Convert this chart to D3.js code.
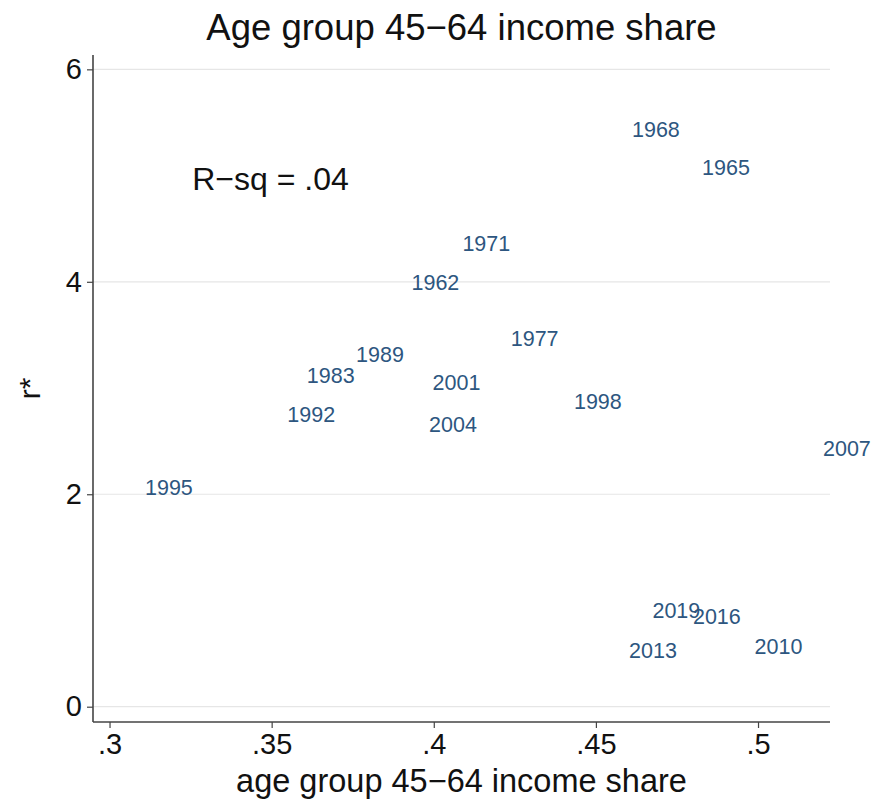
<!DOCTYPE html>
<html>
<head>
<meta charset="utf-8">
<script src="https://cdn.jsdelivr.net/npm/d3@7"></script>
<style>
  html, body { margin: 0; padding: 0; background: #fff; }
  svg { display: block; font-family: "Liberation Sans", Arial, Helvetica, sans-serif; }
</style>
</head>
<body>
<svg id="chart" width="877" height="800"></svg>
<script>
// ---- data ----
const years  = ["1968","1965","1971","1962","1977","1989","1983","2001","1992","2004","1995","1998","2007","2019","2016","2013","2010"];
const share  = [0.4599,0.4815,0.4076,0.3919,0.4225,0.3748,0.3596,0.3984,0.3536,0.3973,0.3097,0.4420,0.5188,0.4662,0.4787,0.4590,0.4977];
const rstar  = [5.43,5.08,4.36,3.99,3.47,3.32,3.12,3.05,2.75,2.66,2.06,2.87,2.43,0.91,0.85,0.53,0.57];
const xTicks = [0.30,0.35,0.40,0.45,0.50];
const xTickLabels = [".3",".35",".4",".45",".5"];
const yTicks = [0,2,4,6];
const yTickLabels = ["0","2","4","6"];
const titleText = "Age group 45\u221264 income share";
const xTitle = "age group 45\u221264 income share";
const yTitle = "r*";
const annotation = {text: "R\u2212sq = .04", x: 0.3255, y: 4.97};

// ---- layout ----
const svg = d3.select("#chart");
const mL = 93, mR = 830, mT = 55, mB = 722;

const x = d3.scaleLinear().domain([0.2949, 0.5222]).range([mL, mR]);
const y = d3.scaleLinear().domain([-0.144, 6.135]).range([mB, mT]);

// gridlines
svg.append("g").selectAll("line").data(yTicks).join("line")
  .attr("x1", mL).attr("x2", mR)
  .attr("y1", d => y(d)).attr("y2", d => y(d))
  .attr("stroke", "#e6e6e6").attr("stroke-width", 1.2);

// y axis
const yAxis = svg.append("g").attr("transform", `translate(${mL},0)`)
  .call(d3.axisLeft(y).tickValues(yTicks).tickFormat((d,i) => yTickLabels[i]).tickSize(6).tickPadding(5));
yAxis.select(".domain").attr("d", `M0,${mT}V${mB}`).attr("stroke", "#444").attr("stroke-width", 1.6);
yAxis.selectAll(".tick line").attr("stroke", "#444").attr("stroke-width", 1.2);
yAxis.selectAll(".tick text").attr("font-size", 29).attr("fill", "#111").attr("font-family", "Liberation Sans, Arial, sans-serif");

// x axis
const xAxis = svg.append("g").attr("transform", `translate(0,${mB})`)
  .call(d3.axisBottom(x).tickValues(xTicks).tickFormat((d,i) => xTickLabels[i]).tickSize(6).tickPadding(5));
xAxis.select(".domain").attr("d", `M${mL},0H${mR}`).attr("stroke", "#444").attr("stroke-width", 1.6);
xAxis.selectAll(".tick line").attr("stroke", "#444").attr("stroke-width", 1.2);
xAxis.selectAll(".tick text").attr("font-size", 29).attr("fill", "#111").attr("font-family", "Liberation Sans, Arial, sans-serif");

// marker labels (position 3: right of point)
svg.append("g").selectAll("text").data(years).join("text")
  .attr("x", (d,i) => x(share[i]) + 4)
  .attr("y", (d,i) => y(rstar[i]))
  .attr("dy", "0.35em")
  .attr("font-size", 21.5)
  .attr("fill", "#2d5680")
  .text(d => d);

// annotation
svg.append("text")
  .attr("x", x(annotation.x)).attr("y", y(annotation.y))
  .attr("dy", "0.35em")
  .attr("font-size", 32).attr("fill", "#111")
  .text(annotation.text);

// title
svg.append("text")
  .attr("x", (mL + mR) / 2).attr("y", 40)
  .attr("text-anchor", "middle")
  .attr("font-size", 36.5).attr("fill", "#111")
  .text(titleText);

// x title
svg.append("text")
  .attr("x", (mL + mR) / 2).attr("y", 792)
  .attr("text-anchor", "middle")
  .attr("font-size", 32.5).attr("fill", "#111")
  .text(xTitle);

// y title
svg.append("text")
  .attr("transform", `translate(40,${(mT + mB) / 2}) rotate(-90)`)
  .attr("text-anchor", "middle")
  .attr("font-size", 30).attr("fill", "#111")
  .text(yTitle);
</script>
</body>
</html>
